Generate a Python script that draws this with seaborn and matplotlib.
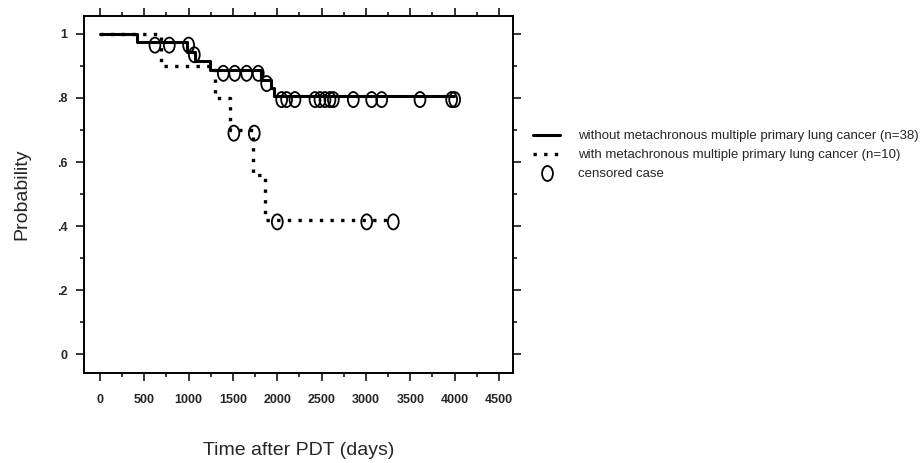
import numpy as np
import matplotlib
matplotlib.use("Agg")
import matplotlib.pyplot as plt
import seaborn as sns
from matplotlib.path import Path
from matplotlib.markers import MarkerStyle
from matplotlib.lines import Line2D
from matplotlib.ticker import MultipleLocator, FixedLocator

# step curves (time in days, survival probability)
solid_times = [0, 414, 980, 1070, 1240, 1820, 1930, 1960, 3992]
solid_surv = [1.0, 0.974, 0.945, 0.916, 0.887, 0.857, 0.83, 0.805, 0.805]
dotted_times = [0, 690, 1300, 1466, 1725, 1860, 3308]
dotted_surv = [1.0, 0.9, 0.8, 0.7, 0.56, 0.42, 0.42]

# censored cases
solid_cens_t = [620, 782, 1000, 1064, 1391, 1520, 1654, 1785, 1880,
                2049, 2105, 2199, 2425, 2481, 2538, 2594, 2632,
                2857, 3064, 3177, 3609, 3966, 4000]
solid_cens_p = [0.965, 0.965, 0.965, 0.935, 0.877, 0.877, 0.877, 0.877, 0.845,
                0.795, 0.795, 0.795, 0.795, 0.795, 0.795, 0.795, 0.795,
                0.795, 0.795, 0.795, 0.795, 0.795, 0.795]
dotted_cens_t = [1510, 1740, 2000, 3008, 3308]
dotted_cens_p = [0.69, 0.69, 0.413, 0.413, 0.413]

x_ticks = [0, 500, 1000, 1500, 2000, 2500, 3000, 3500, 4000, 4500]
x_tick_labels = ["0", "500", "1000", "1500", "2000", "2500", "3000", "3500", "4000", "4500"]
y_ticks = [0, 0.2, 0.4, 0.6, 0.8, 1.0]
y_tick_labels = ["0", ".2", ".4", ".6", ".8", "1"]

legend_labels = ["without metachronous multiple primary lung cancer (n=38)",
                 "with metachronous multiple primary lung cancer (n=10)",
                 "censored case"]

sns.set_style("ticks")
plt.rcParams["font.family"] = ["Liberation Sans", "DejaVu Sans"]

# tall ellipse used as the censoring mark
ell = Path.unit_circle().transformed(matplotlib.transforms.Affine2D().scale(0.72, 1.0))
cens_marker = MarkerStyle(ell)

fig = plt.figure(figsize=(9.24, 4.63), dpi=100)
ax = fig.add_axes([84 / 924, 1 - 373 / 463, (513 - 84) / 924, (373 - 16) / 463])

DOT = (0, (1, 2.2))

sns.lineplot(x=dotted_times, y=dotted_surv, ax=ax, color="black", linewidth=2.4,
             drawstyle="steps-post", errorbar=None, zorder=2)
ax.lines[-1].set_linestyle(DOT)
sns.lineplot(x=solid_times, y=solid_surv, ax=ax, color="black", linewidth=2.2,
             drawstyle="steps-post", errorbar=None, zorder=3)

for t, p in [(solid_cens_t, solid_cens_p), (dotted_cens_t, dotted_cens_p)]:
    sns.scatterplot(x=t, y=p, ax=ax, marker=cens_marker, s=118,
                    edgecolor="black", linewidth=1.3, zorder=4)
for coll in ax.collections:
    coll.set_facecolor("none")
    coll.set_edgecolor("black")

ax.set_xlim(-180, 4658)
ax.set_ylim(-0.059, 1.056)
ax.xaxis.set_major_locator(FixedLocator(x_ticks))
ax.set_xticklabels(x_tick_labels, fontweight="bold")
ax.xaxis.set_minor_locator(MultipleLocator(250))
ax.yaxis.set_major_locator(FixedLocator(y_ticks))
ax.set_yticklabels(y_tick_labels, fontweight="bold")
ax.yaxis.set_minor_locator(MultipleLocator(0.1))

ax.tick_params(which="both", direction="out", top=True, right=True,
               labeltop=False, labelright=False, color="black", width=1.1)
ax.tick_params(which="major", length=6, labelsize=9)
ax.tick_params(axis="x", which="major", pad=9)
ax.tick_params(axis="y", which="major", pad=6)
ax.tick_params(which="minor", length=3)
for s in ax.spines.values():
    s.set_visible(True)
    s.set_linewidth(1.4)
    s.set_color("black")

ax.set_xlabel("Time after PDT (days)", fontsize=14, labelpad=26)
ax.set_ylabel("Probability", fontsize=14, labelpad=19)

handles = [Line2D([], [], color="black", linewidth=2.2),
           Line2D([], [], color="black", linewidth=2.4, linestyle=DOT),
           Line2D([], [], linestyle="none", marker=cens_marker, markersize=10.8,
                  markerfacecolor="none", markeredgecolor="black", markeredgewidth=1.3)]
fig.legend(handles, legend_labels, loc="upper left", bbox_to_anchor=(533 / 924, 1 - 130 / 463),
           frameon=False, fontsize=9.5, handlelength=2.05, handletextpad=1.37,
           labelspacing=0.52, borderaxespad=0, borderpad=0)

fig.savefig("out.png", dpi=100)
